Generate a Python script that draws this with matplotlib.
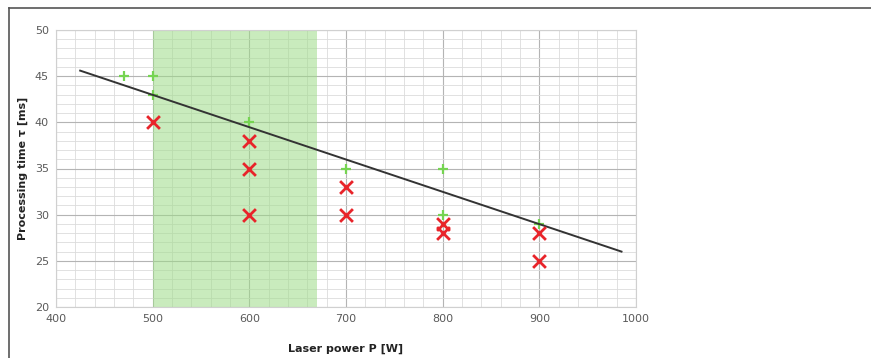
import matplotlib
matplotlib.use("Agg")
import matplotlib.pyplot as plt
from matplotlib.lines import Line2D
from matplotlib.ticker import MultipleLocator

# Successful welds (green +)
ok_power = [470, 500, 500, 600, 700, 800, 800, 900]
ok_time = [45, 45, 43, 40, 35, 35, 30, 29]

# Failed welds (red x)
fail_power = [500, 600, 600, 600, 700, 700, 800, 800, 900, 900]
fail_time = [40, 38, 35, 30, 33, 30, 29, 28, 28, 25]

# Boundary line between the two regions
limit_power = [425, 985]
limit_time = [45.6, 26.0]

# Recommended process window
window_power = [500, 670]

x_ticks = [400, 500, 600, 700, 800, 900, 1000]
y_ticks = [20, 25, 30, 35, 40, 45, 50]

fig = plt.figure(figsize=(8.71, 3.58), dpi=100)
ax = fig.add_axes([56 / 871, 1 - 307 / 358, 580 / 871, 277 / 358])

ax.set_xlim(x_ticks[0], x_ticks[-1])
ax.set_ylim(y_ticks[0], y_ticks[-1])
ax.set_xticks(x_ticks)
ax.set_yticks(y_ticks)
ax.xaxis.set_minor_locator(MultipleLocator(20))
ax.yaxis.set_minor_locator(MultipleLocator(1))
ax.grid(which="major", color="#b4b4b4", lw=0.8, zorder=1)
ax.grid(which="minor", color="#dcdcdc", lw=0.6, zorder=1)
ax.set_axisbelow(True)

# translucent band drawn over the grid
ax.axvspan(window_power[0], window_power[1], color="#9edc88", alpha=0.55, zorder=2, lw=0)

ax.tick_params(which="both", length=0, labelsize=8, labelcolor="#5a5a5a", pad=5)
for s in ax.spines.values():
    s.set_color("#d0d0d0")
    s.set_linewidth(0.8)

ax.plot(limit_power, limit_time, color="#333333", lw=1.4, zorder=4)
ax.scatter(ok_power, ok_time, marker="+", s=60, color="#76d452", lw=1.6, zorder=3)
ax.scatter(fail_power, fail_time, marker="x", s=85, color="#e8242a", lw=2.0, zorder=5)

ax.set_xlabel("Laser power P [W]", fontsize=8, fontweight="bold", color="#222222", labelpad=14)
ax.set_ylabel("Processing time τ [ms]", fontsize=8, fontweight="bold", color="#222222", labelpad=5)

# Frame edges of the figure panel
fig.add_artist(Line2D([9 / 871, 1], [1 - 8 / 358, 1 - 8 / 358], color="#555555", lw=1.2))
fig.add_artist(Line2D([9 / 871, 9 / 871], [0, 1 - 8 / 358], color="#555555", lw=1.2))

fig.savefig("out.png", dpi=100, facecolor="white")
